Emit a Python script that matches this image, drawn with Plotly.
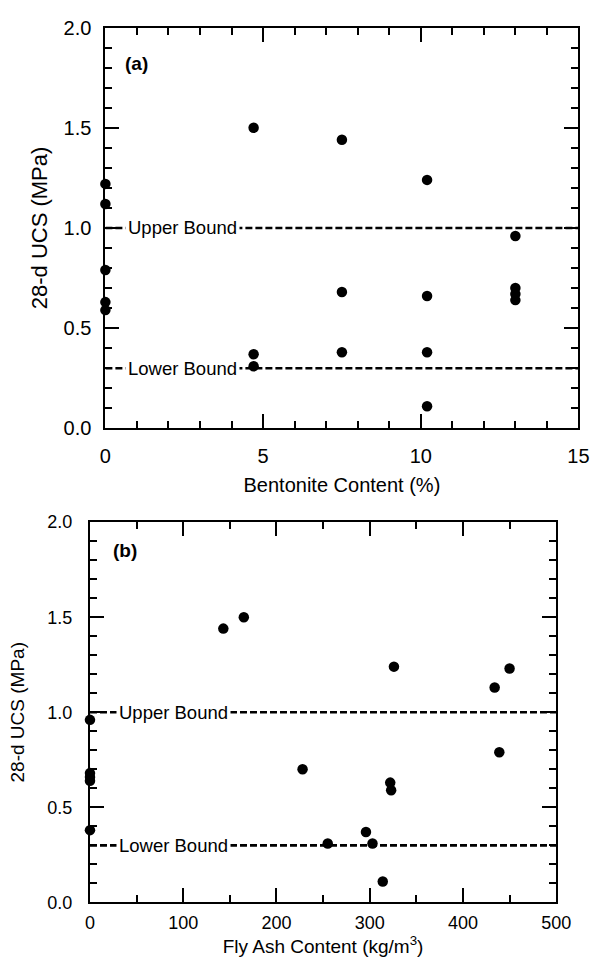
import plotly.graph_objects as go

# ---- Panel (a): Bentonite content ----
bent_x = [0, 0, 0, 0, 0,
          4.7, 4.7, 4.7,
          7.5, 7.5, 7.5,
          10.2, 10.2, 10.2, 10.2,
          13.0, 13.0, 13.0, 13.0]
bent_ucs = [1.22, 1.12, 0.79, 0.63, 0.59,
            1.50, 0.37, 0.31,
            1.44, 0.68, 0.38,
            1.24, 0.66, 0.38, 0.11,
            0.96, 0.70, 0.67, 0.64]

# ---- Panel (b): Fly ash content ----
fa_x = [0, 0, 0, 0, 0,
        143, 165, 228, 255, 296, 303, 314, 322, 323, 326, 434, 439, 450]
fa_ucs = [0.96, 0.68, 0.66, 0.64, 0.38,
          1.44, 1.50, 0.70, 0.31, 0.37, 0.31, 0.11, 0.63, 0.59, 1.24, 1.13, 0.79, 1.23]

upper_bound = 1.0
lower_bound = 0.3
range_a = [0, 15]
range_b = [0, 500]

FONT = "Liberation Sans, Arial, sans-serif"
BLACK = "black"

fig = go.Figure()

# bound lines
for xr, xa, ya in [(range_a, "x", "y"), (range_b, "x2", "y2")]:
    for b in (upper_bound, lower_bound):
        fig.add_trace(go.Scatter(x=xr, y=[b, b], mode="lines", xaxis=xa, yaxis=ya,
                                 line=dict(color=BLACK, width=2.6, dash="7px,3px"),
                                 showlegend=False, hoverinfo="skip", cliponaxis=True))

fig.add_trace(go.Scatter(x=bent_x, y=bent_ucs, mode="markers", xaxis="x", yaxis="y",
                         marker=dict(color=BLACK, size=10.5), showlegend=False, cliponaxis=False))
fig.add_trace(go.Scatter(x=fa_x, y=fa_ucs, mode="markers", xaxis="x2", yaxis="y2",
                         marker=dict(color=BLACK, size=10.5), showlegend=False, cliponaxis=False))

def xaxis(domain, rng, dtick, minor, anchor, title, tfont, ttfont, standoff, lblstand):
    return dict(domain=domain, range=rng, anchor=anchor, dtick=dtick, tick0=0,
                showline=True, linecolor=BLACK, linewidth=2, mirror="allticks",
                ticks="inside", ticklen=14, tickwidth=1.5, tickcolor=BLACK,
                minor=dict(dtick=minor, ticks="inside", ticklen=7, tickwidth=1.5, tickcolor=BLACK),
                showgrid=False, zeroline=False,
                tickfont=dict(family=FONT, size=tfont, color=BLACK),
                ticklabelstandoff=lblstand,
                title=dict(text=title, font=dict(family=FONT, size=ttfont, color=BLACK), standoff=standoff))

def yaxis(domain, anchor, tfont, titlefont, standoff, lblstand):
    return dict(domain=domain, range=[0, 2], anchor=anchor, dtick=0.5, tick0=0,
                tickformat=".1f",
                showline=True, linecolor=BLACK, linewidth=2, mirror="allticks",
                ticks="inside", ticklen=14, tickwidth=1.5, tickcolor=BLACK,
                minor=dict(dtick=0.1, ticks="inside", ticklen=7, tickwidth=1.5, tickcolor=BLACK),
                showgrid=False, zeroline=False,
                tickfont=dict(family=FONT, size=tfont, color=BLACK),
                ticklabelstandoff=lblstand,
                title=dict(text="28-d UCS (MPa)", font=dict(family=FONT, size=titlefont, color=BLACK),
                           standoff=standoff))

fig.update_layout(
    width=605, height=973,
    margin=dict(l=0, r=0, t=0, b=0),
    paper_bgcolor="white", plot_bgcolor="white",
    xaxis=xaxis([0.1702, 0.9802], range_a, 5, 1, "y", "Bentonite Content (%)", 20, 20, 12, 9),
    yaxis=yaxis([0.5612, 0.9825], "x", 20, 22, 10, 8),
    xaxis2=xaxis([0.1438, 0.9421], range_b, 100, 50, "y2",
                 "Fly Ash Content (kg/m<sup>3</sup>)", 18, 19, 2, 3),
    yaxis2=yaxis([0.0627, 0.4625], "x2", 18, 19, 18, 12),
)

ann_font = dict(family=FONT, size=18.5, color=BLACK)
annotations = [
    dict(x=0.62, y=upper_bound, xref="x", yref="y", text="Upper Bound"),
    dict(x=0.62, y=lower_bound, xref="x", yref="y", text="Lower Bound"),
    dict(x=28, y=upper_bound, xref="x2", yref="y2", text="Upper Bound"),
    dict(x=28, y=lower_bound, xref="x2", yref="y2", text="Lower Bound"),
]
for a in annotations:
    fig.add_annotation(**a, xanchor="left", yanchor="middle", showarrow=False,
                       bgcolor="white", borderpad=2, font=ann_font)

fig.add_annotation(x=0.55, y=1.82, xref="x", yref="y", text="<b>(a)</b>", showarrow=False,
                   xanchor="left", yanchor="middle", font=dict(family=FONT, size=19, color=BLACK))
fig.add_annotation(x=23, y=1.85, xref="x2", yref="y2", text="<b>(b)</b>", showarrow=False,
                   xanchor="left", yanchor="middle", font=dict(family=FONT, size=19, color=BLACK))

fig.write_html("out.html")
